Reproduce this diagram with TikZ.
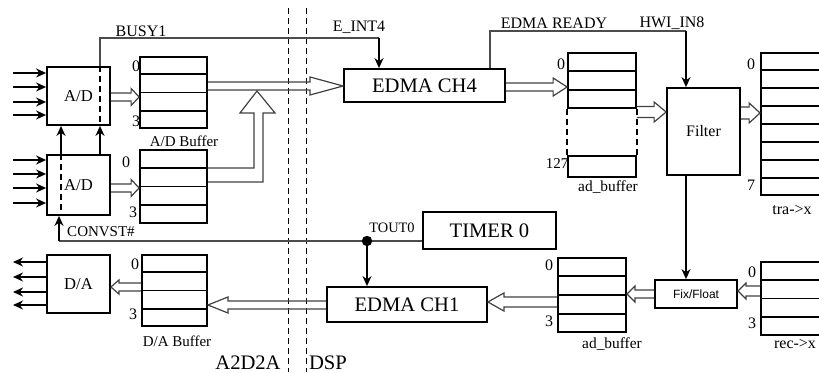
\documentclass[tikz,border=0pt]{standalone}
\usepackage{fontspec}
\setmainfont{Liberation Serif}
\newfontfamily\sfnt{Liberation Sans}
\usetikzlibrary{calc,arrows.meta}
\tikzset{
 blk/.style={draw, line width=0.9pt, inner sep=0pt},
 lab/.style={inner sep=0pt, font=\fontsize{8}{9}\selectfont},
 num/.style={inner sep=0pt, font=\fontsize{8}{9}\selectfont},
 big/.style={font=\fontsize{10.3}{12}\selectfont},
 sig/.style={line width=0.9pt, -{Stealth[length=5pt,width=4.5pt]}},
 wire/.style={line width=0.55pt, black!70},
 fat/.style={line width=0.6pt, black!75, line join=miter},
 sep/.style={line width=0.45pt, dash pattern=on 3pt off 2pt},
 innerdash/.style={line width=0.8pt, dash pattern=on 3pt off 2pt},
 rowline/.style={line width=0.9pt},
}
\newcommand\fatarrow[5]{%
  \draw[fat] let \p1=(#1), \p2=(#2), \n1={sign(\x2-\x1)} in
    (\x1,{\y1+#3*0.5pt}) -- ({\x2-\n1*#5*0.5pt},{\y1+#3*0.5pt}) -- ({\x2-\n1*#5*0.5pt},{\y1+#4*0.5pt}) -- (\x2,\y1)
    -- ({\x2-\n1*#5*0.5pt},{\y1-#4*0.5pt}) -- ({\x2-\n1*#5*0.5pt},{\y1-#3*0.5pt}) -- (\x1,{\y1-#3*0.5pt});}
\newcommand\bufrows[2]{%
  \pgfmathtruncatemacro\rn{#2-1}%
  \foreach \i in {1,...,\rn}{\draw[rowline] ($(#1.north west)!\i/#2!(#1.south west)$) -- ($(#1.north east)!\i/#2!(#1.south east)$);}}
\begin{document}
\begin{tikzpicture}[x=0.5pt,y=-0.5pt]
\useasboundingbox (0,0) rectangle (819,373);
\clip (0,0) rectangle (819,373);
% boxes
\node[blk, minimum width=31.5pt, minimum height=29pt, font=\fontsize{8.3}{9}\selectfont] (adA) at (78.5,96) {A/D};
\node[blk, minimum width=31.5pt, minimum height=30pt, font=\fontsize{8.3}{9}\selectfont] (adB) at (78.5,185) {A/D};
\node[blk, minimum width=31.5pt, minimum height=29pt, font=\fontsize{8.3}{9}\selectfont] (da) at (78.5,284) {D/A};
\node[blk, minimum width=33.5pt, minimum height=35.5pt] (bufA) at (173.5,92.5) {};
\node[blk, minimum width=33.5pt, minimum height=36.5pt] (bufB) at (173.5,186.5) {};
\node[blk, minimum width=32.5pt, minimum height=35.5pt] (bufDA) at (174.5,290.5) {};
\node[blk, big, minimum width=80.5pt, minimum height=16.5pt] (edma4) at (424.5,85.5) {EDMA CH4};
\node[blk, big, minimum width=80pt, minimum height=17.5pt] (edma1) at (407,304.5) {EDMA CH1};
\node[blk, big, minimum width=66.5pt, minimum height=18.5pt] (timer) at (489.5,230.5) {TIMER 0};
\node[blk, minimum width=34pt, minimum height=27.5pt] (adbuf) at (602,80.5) {};
\node[blk, minimum width=34pt, minimum height=10.5pt] (adbufe) at (602,166.5) {};
\node[blk, minimum width=36.5pt, minimum height=43.5pt, font=\fontsize{8}{9}\selectfont] (filter) at (703.5,131.5) {Filter};
\node[blk, minimum width=41pt, minimum height=14pt, font=\sfnt\fontsize{6}{7}\selectfont] (fixf) at (696,294) {Fix/Float};
\node[blk, minimum width=32pt, minimum height=71pt] (tra) at (793,124) {};
\node[blk, minimum width=32pt, minimum height=36.5pt] (rec) at (793,298.5) {};
\node[blk, minimum width=34pt, minimum height=37pt] (adbuf2) at (592,295) {};
\bufrows{bufA}{4}
\bufrows{bufB}{4}
\bufrows{bufDA}{4}
\bufrows{adbuf}{3}
\bufrows{tra}{8}
\bufrows{rec}{4}
\bufrows{adbuf2}{4}
\draw[innerdash] (adbuf.south west) -- (adbufe.north west);
\draw[innerdash] (adbuf.south east) -- (adbufe.north east);
% separators
\coordinate (s1t) at (288,8); \coordinate (s1b) at (288,372);
\coordinate (s2t) at (306,8); \coordinate (s2b) at (306,372);
\draw[sep] (s1t) -- (s1b);
\draw[sep] (s2t) -- (s2b);
% inputs / outputs
\foreach \yy [count=\k] in {73,87,102,115} {\coordinate (ia\k) at (13,\yy); \draw[sig] (ia\k) -- (ia\k -| adA.west);}
\foreach \yy [count=\k] in {160,174,188,203} {\coordinate (ib\k) at (13,\yy); \draw[sig] (ib\k) -- (ib\k -| adB.west);}
\foreach \yy [count=\k] in {262,277,292,305} {\coordinate (od\k) at (13,\yy); \draw[sig] (od\k -| da.west) -- (od\k);}
% BUSY1 / E_INT4
\coordinate (busy) at (100,38);
\coordinate (eint) at (379,38);
\draw[wire] (adA.north -| busy) -- (busy) -- (eint);
\draw[sig] (eint) -- (eint |- edma4.north);
\draw[innerdash] (adA.north -| busy) -- (adA.south -| busy);
\draw[sig] (adB.north -| busy) -- (adA.south -| busy);
\coordinate (cx) at (61,0);
\draw[sig] (adB.north -| cx) -- (adA.south -| cx);
\draw[innerdash] (adB.north -| cx) -- (adB.south -| cx);
% EDMA READY / HWI_IN8
\coordinate (er) at (490,31);
\coordinate (hw) at (686,31);
\draw[wire] (edma4.north -| er) -- (er) -- (hw);
\draw[sig] (hw) -- (hw |- filter.north);
\draw[sig] (filter.south -| hw) -- (fixf.north -| hw);
% CONVST# / TOUT0
\coordinate (cv) at (59,241);
\coordinate (tj) at (367,241);
\draw[wire] (timer.west |- cv) -- (cv);
\draw[sig] (cv) -- (cv |- adB.south);
\fill (tj) circle (2.6pt);
\draw[sig] (tj) -- (tj |- edma1.north);
% hollow arrows
\fatarrow{adA.east |- 0,97}{bufA.west}{4}{8.5}{8}
\fatarrow{adB.east |- 0,188}{bufB.west}{4}{8.5}{8}
\fatarrow{edma4.east |- 0,87}{adbuf.west}{4}{9}{14}
\fatarrow{adbuf.east |- 0,112}{filter.west}{5.5}{10}{12}
\fatarrow{filter.east |- 0,113}{tra.west}{6}{10}{11}
\fatarrow{rec.west |- 0,291}{fixf.east}{5}{8}{8}
\fatarrow{fixf.west |- 0,294}{adbuf2.east}{4}{8}{8}
\fatarrow{adbuf2.west |- 0,302}{edma1.east}{5}{9}{16}
\fatarrow{edma1.west |- 0,305}{bufDA.east}{4}{8}{20}
\fatarrow{bufDA.west |- 0,287}{da.east}{4}{7}{8}
\draw[fat] (bufA.east |- 0,82) -- (310,82) -- (310,77) -- (edma4.west |- 0,86) -- (310,95) -- (310,90) -- (bufA.east |- 0,90);
\draw[fat] (bufB.east |- 0,168) -- (254,168) -- (254,113) -- (240,113) -- (257,91) -- (275,113) -- (263,113) -- (263,182) -- (bufB.east |- 0,182);
% labels
\node[lab] (busyL) at (141,31) {BUSY1};
\node[lab] (eintL) at (359,27) {E\_INT4};
\node[lab] (erL) at (554,23) {EDMA READY};
\node[lab] (hwL) at (672,23) {HWI\_IN8};
\node[lab, font=\fontsize{7.5}{9}\selectfont] (convL) at (101,232) {CONVST\#};
\node[lab, font=\fontsize{7.2}{9}\selectfont] (toutL) at (392,228) {TOUT0};
\node[lab, font=\fontsize{7.5}{9}\selectfont] (adbL) at (184,141) {A/D Buffer};
\node[lab, font=\fontsize{7.5}{9}\selectfont] (dabL) at (177,341) {D/A Buffer};
\node[lab, big] (a2L) at (248,363) {A2D2A};
\node[lab, big] (dspL) at (328,363) {DSP};
\node[lab, font=\fontsize{7.7}{9}\selectfont] (adb1L) at (608,187) {ad\_buffer};
\node[lab, font=\fontsize{7.7}{9}\selectfont] (adb2L) at (612,344) {ad\_buffer};
\node[lab] (traL) at (792,210) {tra->x};
\node[lab] (recL) at (795,344) {rec->x};
\node[num] (n1) at (136,66) {0};
\node[num] (n2) at (136,121) {3};
\node[num] (n3) at (126,162) {0};
\node[num] (n4) at (133,212) {3};
\node[num] (n5) at (135,264) {0};
\node[num] (n6) at (133,314) {3};
\node[num] (n7) at (561,64) {0};
\node[num, font=\fontsize{7.5}{9}\selectfont] (n8) at (557,164) {127};
\node[num] (n9) at (549,265) {0};
\node[num] (n10) at (549,321) {3};
\node[num] (n11) at (751,64) {0};
\node[num] (n12) at (751,185) {7};
\node[num] (n13) at (752,272) {0};
\node[num] (n14) at (752,323) {3};
\end{tikzpicture}
\end{document}
